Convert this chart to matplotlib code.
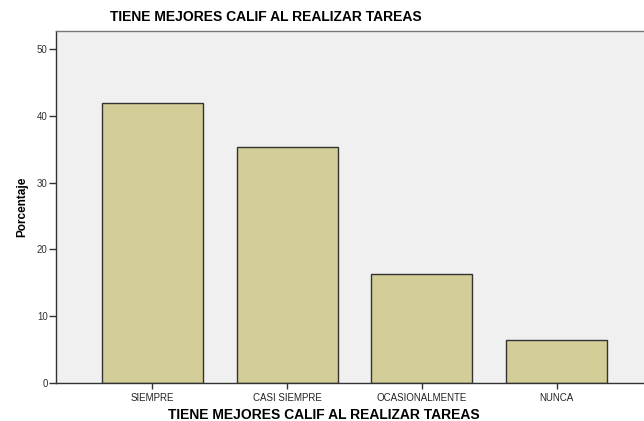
import matplotlib
matplotlib.use('Agg')
from matplotlib import pyplot as plt

categories = ['SIEMPRE', 'CASI SIEMPRE', 'OCASIONALMENTE', 'NUNCA']
percentages = [41.9, 35.3, 16.3, 6.5]
yticks = [0, 10, 20, 30, 40, 50]
title = 'TIENE MEJORES CALIF AL REALIZAR TAREAS'

plt.rcParams['font.family'] = ['Liberation Sans', 'DejaVu Sans']

fig = plt.figure(figsize=(6.44, 4.21), dpi=100)
ax = fig.add_axes([56 / 644, 38 / 421, 597 / 644, 352 / 421])
ax.set_facecolor('#f0f0f0')

x = range(len(categories))
ax.bar(x, percentages, width=0.75, color='#d3ce97', edgecolor='#333333', linewidth=1.0)

ax.set_xlim(-0.716, 3.716)
ax.set_ylim(0, 52.7)
ax.set_xticks(list(x))
ax.set_xticklabels(categories, fontsize=7, color='#222222')
ax.set_yticks(yticks)
ax.set_yticklabels([str(v) for v in yticks], fontsize=7, color='#333333')
ax.tick_params(axis='y', direction='out', length=5, width=1, color='#333333', pad=1)
ax.tick_params(axis='x', direction='out', length=4, width=1, color='#333333', pad=3)

for side in ['left', 'bottom']:
    ax.spines[side].set_color('#333333')
    ax.spines[side].set_linewidth(1.0)
ax.spines['top'].set_color('#777777')
ax.spines['top'].set_linewidth(1.0)
ax.spines['right'].set_visible(False)

ax.set_xlabel(title, fontsize=10, fontweight='bold', labelpad=3)
ax.xaxis.set_label_coords((324 - 56) / 597, -0.07)
ax.set_ylabel('Porcentaje', fontsize=8.5, fontweight='bold', labelpad=6)

fig.text(266 / 644, 1 - 17 / 421, title, ha='center', va='center',
         fontsize=10, fontweight='bold')

fig.savefig('out.png', dpi=100)
